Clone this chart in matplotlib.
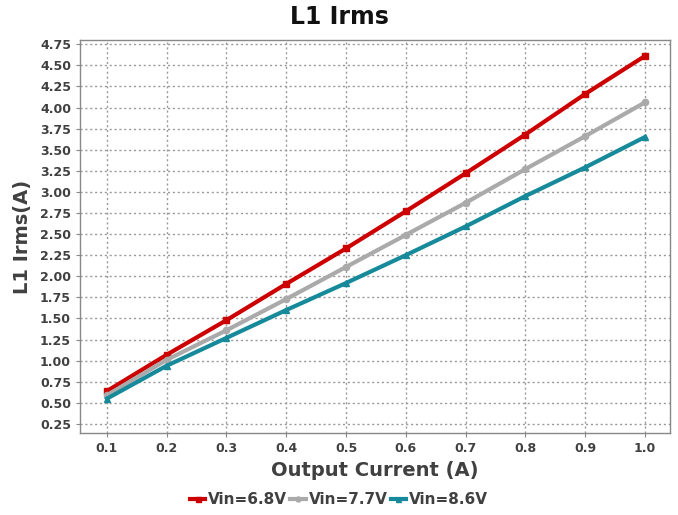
import matplotlib
matplotlib.use("Agg")
import matplotlib.pyplot as plt

current = [0.1, 0.2, 0.3, 0.4, 0.5, 0.6, 0.7, 0.8, 0.9, 1.0]
vin68 = [0.64, 1.07, 1.48, 1.91, 2.33, 2.77, 3.22, 3.68, 4.16, 4.61]
vin77 = [0.59, 1.01, 1.36, 1.73, 2.11, 2.49, 2.87, 3.27, 3.66, 4.06]
vin86 = [0.55, 0.94, 1.27, 1.60, 1.92, 2.25, 2.59, 2.95, 3.29, 3.65]
labels = ["Vin=6.8V", "Vin=7.7V", "Vin=8.6V"]
yticks = [0.25, 0.5, 0.75, 1.0, 1.25, 1.5, 1.75, 2.0, 2.25, 2.5, 2.75, 3.0, 3.25, 3.5, 3.75, 4.0, 4.25, 4.5, 4.75]

txt = "#404040"
fig = plt.figure(figsize=(6.78, 5.15), dpi=100)
ax = fig.add_axes([80/678, 82/515, 590/678, 393/515])

series = [(vin68, "#cc0000", "s"), (vin77, "#aaaaaa", "o"), (vin86, "#168a9a", "^")]
for (vals, col, mk), lab in zip(series, labels):
    ax.plot(current, vals, color=col, lw=3, marker=mk, ms=4.5, label=lab)

ax.set_xlim(0.055, 1.042)
ax.set_ylim(0.143, 4.80)
ax.set_xticks(current)
ax.set_xticklabels([f"{v:.1f}" for v in current])
ax.set_yticks(yticks)
ax.set_yticklabels([f"{v:.2f}" for v in yticks])
ax.grid(True, color="#999999", linestyle=(0, (1.5, 2)), lw=1)
ax.set_axisbelow(True)
for s in ax.spines.values():
    s.set_color("#888888")
    s.set_linewidth(1)
ax.tick_params(colors=txt, labelsize=9, length=3, color="#888888")
for t in ax.get_xticklabels() + ax.get_yticklabels():
    t.set_fontweight("bold")
    t.set_color(txt)

fig.text(0.5, 1 - 17/515, "L1 Irms", ha="center", va="center", fontsize=17,
         fontweight="bold", color="#111111")
ax.set_xlabel("Output Current (A)", fontsize=14, fontweight="bold", color=txt, labelpad=4)
ax.set_ylabel("L1 Irms(A)", fontsize=14, fontweight="bold", color=txt, labelpad=6)

leg = fig.legend(loc="center", bbox_to_anchor=(0.5, 1 - 500/515), ncol=3, frameon=False,
                 prop={"weight": "bold", "size": 11}, handlelength=1.0, handletextpad=0.2,
                 columnspacing=0.2, markerscale=0.8, borderpad=0)
for t in leg.get_texts():
    t.set_color(txt)

fig.savefig("out.png", dpi=100)
